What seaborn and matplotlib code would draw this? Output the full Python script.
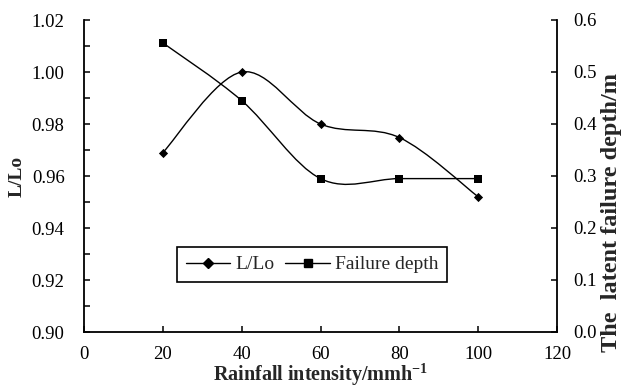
import numpy as np
import matplotlib
matplotlib.use("Agg")
import matplotlib.pyplot as plt
import seaborn as sns
from matplotlib.path import Path
from matplotlib.patches import PathPatch
from matplotlib.lines import Line2D
from matplotlib.ticker import MultipleLocator, FormatStrFormatter

# ---- data ----
rainfall = [20, 40, 60, 80, 100]
l_lo = [0.969, 1.000, 0.980, 0.9748, 0.952]
failure_depth = [0.556, 0.445, 0.295, 0.295, 0.295]
series_names = ["L/Lo", "Failure depth"]
x_label = "Rainfall intensity/mmh$^{\\mathbf{-1}}$"
y_left_label = "L/Lo"
y_right_label = "The  latent failure depth/m"

sns.set_style("ticks")
plt.rcParams['font.family'] = ['Liberation Serif', 'DejaVu Serif']
plt.rcParams['mathtext.fontset'] = 'custom'
plt.rcParams['mathtext.rm'] = 'Liberation Serif'
plt.rcParams['mathtext.bf'] = 'Liberation Serif:bold'

fig = plt.figure(figsize=(6.23, 3.88), dpi=100)
ax = fig.add_axes([84/623, 1-332/388, (557-84)/623, (332-20)/388])
ax2 = ax.twinx()


def smooth_path(xs, ys):
    # Catmull-Rom style cubic Bezier (like spreadsheet smoothed lines)
    pts = np.column_stack([xs, ys]).astype(float)
    n = len(pts)
    verts = [tuple(pts[0])]
    codes = [Path.MOVETO]
    for i in range(n - 1):
        p0 = pts[i - 1] if i > 0 else pts[i]
        p1 = pts[i]
        p2 = pts[i + 1]
        p3 = pts[i + 2] if i + 2 < n else pts[i + 1]
        c1 = p1 + (p2 - p0) / 6.0
        c2 = p2 - (p3 - p1) / 6.0
        verts += [tuple(c1), tuple(c2), tuple(p2)]
        codes += [Path.CURVE4] * 3
    return Path(verts, codes)


ax.add_patch(PathPatch(smooth_path(rainfall, l_lo), fill=False, edgecolor='black', lw=1.0))
ax2.add_patch(PathPatch(smooth_path(rainfall, failure_depth), fill=False, edgecolor='black', lw=1.0))

sns.scatterplot(x=rainfall, y=l_lo, marker='D', s=22, color='black', linewidth=0, ax=ax, zorder=5)
sns.scatterplot(x=rainfall, y=failure_depth, marker='s', s=38, color='black', linewidth=0, ax=ax2, zorder=5)

ax.set_xlim(0, 120)
ax.set_ylim(0.90, 1.02)
ax2.set_ylim(0.0, 0.6)

ax.xaxis.set_major_locator(MultipleLocator(20))
ax.yaxis.set_major_locator(MultipleLocator(0.02))
ax.yaxis.set_minor_locator(MultipleLocator(0.01))
ax.yaxis.set_major_formatter(FormatStrFormatter('%.2f'))
ax2.yaxis.set_major_locator(MultipleLocator(0.1))
ax2.yaxis.set_major_formatter(FormatStrFormatter('%.1f'))

tick_fs = 13.5
ax.tick_params(axis='x', direction='in', length=4, width=1.1, labelsize=tick_fs, pad=10, colors='black')
ax.tick_params(axis='y', which='both', direction='in', length=4, width=1.1, labelsize=tick_fs, pad=14, colors='black')
ax2.tick_params(axis='y', direction='in', length=4, width=1.1, labelsize=tick_fs, pad=12, colors='black')

for a in (ax, ax2):
    a.spines['top'].set_visible(False)
    for s in ('left', 'right', 'bottom'):
        a.spines[s].set_linewidth(1.3)
        a.spines[s].set_color('black')
ax.spines['right'].set_visible(False)
ax2.spines['left'].set_visible(False)
ax2.spines['bottom'].set_visible(False)

ax.set_xlabel(x_label, fontsize=14.5, fontweight='bold', labelpad=-1)
ax.set_ylabel(y_left_label, fontsize=14, fontweight='bold', labelpad=4)
ax2.set_ylabel("")
fig.text(611/623, 1-213/388, y_right_label, rotation=90, ha='center', va='center',
         fontsize=17.5, fontweight='bold')

handles = [
    Line2D([], [], color='black', lw=1.0, marker='D', markersize=4.6),
    Line2D([], [], color='black', lw=1.0, marker='s', markersize=6),
]
leg = ax.legend(handles, series_names, loc='upper left',
                bbox_to_anchor=(177/623, 1-247/388), bbox_transform=fig.transFigure,
                ncol=2, fontsize=14, frameon=True, fancybox=False, framealpha=1,
                handlelength=2.3, handletextpad=0.25, columnspacing=0.55,
                borderpad=0.45, borderaxespad=0)
leg.get_frame().set_edgecolor('black')
leg.get_frame().set_linewidth(1.2)

fig.savefig("out.png", dpi=100, facecolor='white')
